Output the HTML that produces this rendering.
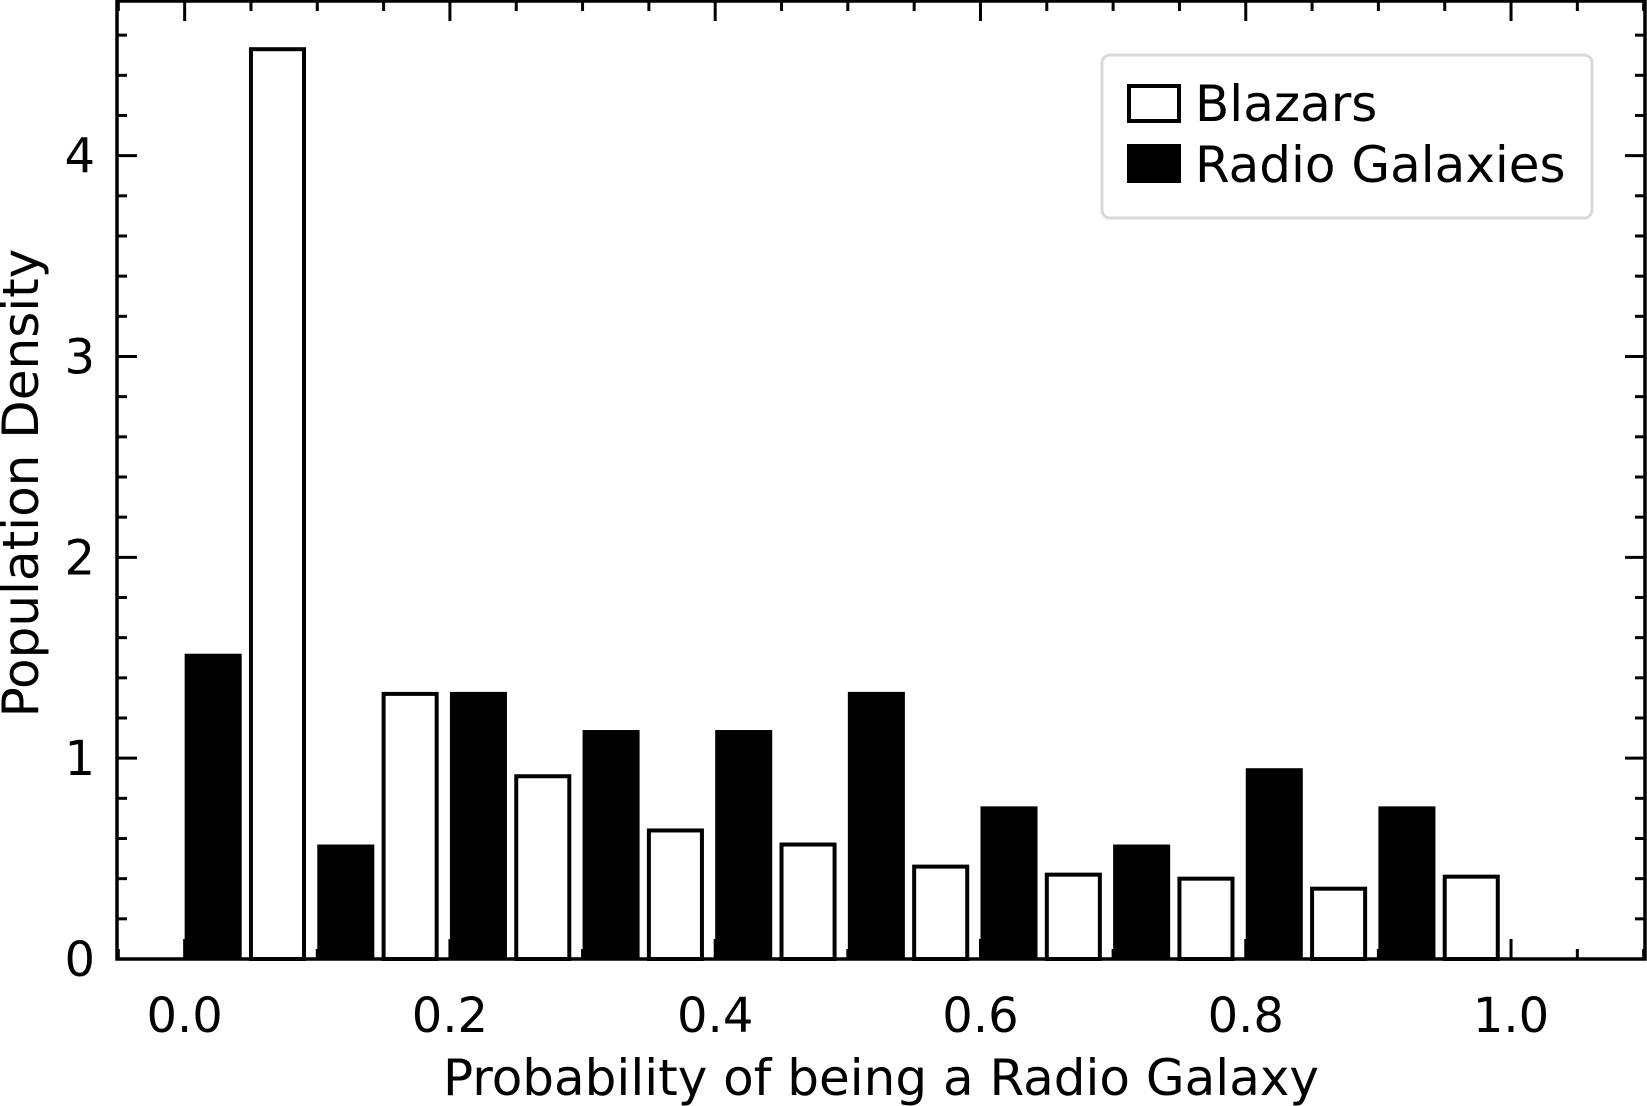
<!DOCTYPE html>
<html><head><meta charset="utf-8"><style>
html,body{margin:0;padding:0;background:#fff;}
svg{display:block;font-family:"DejaVu Sans","Liberation Sans",sans-serif;}
</style></head><body>
<svg id="chart" width="1647" height="1106" viewBox="0 0 1647 1106" xmlns="http://www.w3.org/2000/svg">
<g id="bars"></g>
<g id="axes"></g>
<g>
<rect x="1102" y="55" width="490" height="163" rx="8" fill="#fff" stroke="#d9d9d9" stroke-width="3"/>
<rect x="1129" y="86" width="50" height="35" fill="#fff" stroke="#000" stroke-width="4"/>
<text x="1195" y="121" font-size="50">Blazars</text>
<rect x="1127" y="144" width="54" height="39" fill="#000"/>
<text x="1195" y="182" font-size="50">Radio Galaxies</text>
</g>
<text x="881" y="1095" font-size="50" text-anchor="middle">Probability of being a Radio Galaxy</text>
<text transform="translate(38,483) rotate(-90)" font-size="50" text-anchor="middle">Population Density</text>
</svg>
<script>
const binStarts = [0.0,0.1,0.2,0.3,0.4,0.5,0.6,0.7,0.8,0.9];
const radioValues = [1.52,0.57,1.33,1.14,1.14,1.33,0.76,0.57,0.95,0.76];
const blazarValues = [4.53,1.32,0.91,0.64,0.57,0.46,0.42,0.40,0.35,0.41];
const xTickValues = [0.0,0.2,0.4,0.6,0.8,1.0];
const xTickLabels = ["0.0","0.2","0.4","0.6","0.8","1.0"];
const yTickValues = [0,1,2,3,4];
const yTickLabels = ["0","1","2","3","4"];

const L=117,R=1645,T=1,B=959, X0=-0.051, X1=1.101, Y0=0, Y1=4.77;
function sx(v){return L+(v-X0)/(X1-X0)*(R-L);}
function sy(v){return B-(v-Y0)/(Y1-Y0)*(B-T);}
const NS='http://www.w3.org/2000/svg';
function mk(tag,attrs,parent){const e=document.createElementNS(NS,tag);for(const k in attrs)e.setAttribute(k,attrs[k]);parent.appendChild(e);return e;}
const bars=document.getElementById('bars'), axes=document.getElementById('axes');
binStarts.forEach((b,i)=>{
  const r=mk('rect',{x:sx(b),y:sy(radioValues[i]),width:sx(b+0.043)-sx(b),height:sy(0)-sy(radioValues[i]),fill:'#000'},bars);
  
  
  const w=mk('rect',{x:sx(b+0.050),y:sy(blazarValues[i]),width:sx(b+0.090)-sx(b+0.050),height:sy(0)-sy(blazarValues[i]),fill:'#fff',stroke:'#000','stroke-width':4},bars);
  
  
});
const fr=mk('rect',{x:L,y:T,width:R-L,height:B-T,fill:'none',stroke:'#000','stroke-width':3.5},axes);


for(let k=-1;k<=22;k++){const v=k*0.05;if(v<X0||v>X1)continue;const x=sx(v);const major=(k%4===0);const len=major?20:10;
  mk('line',{x1:x,x2:x,y1:B,y2:B-len,stroke:'#000','stroke-width':3},axes);
  mk('line',{x1:x,x2:x,y1:T,y2:T+len,stroke:'#000','stroke-width':3},axes);}
xTickValues.forEach((v,i)=>{const t=mk('text',{x:sx(v),y:1032,'font-size':48,'text-anchor':'middle'},axes);t.textContent=xTickLabels[i];
  
  });
for(let k=0;k<=23;k++){const v=k*0.2;if(v>Y1)continue;const y=sy(v);const major=(k%5===0);const len=major?20:10;
  mk('line',{x1:L,x2:L+len,y1:y,y2:y,stroke:'#000','stroke-width':3},axes);
  mk('line',{x1:R,x2:R-len,y1:y,y2:y,stroke:'#000','stroke-width':3},axes);}
yTickValues.forEach((v,i)=>{const t=mk('text',{x:95,y:sy(v)+17,'font-size':48,'text-anchor':'end'},axes);t.textContent=yTickLabels[i];
  
  });
</script>
</body></html>
